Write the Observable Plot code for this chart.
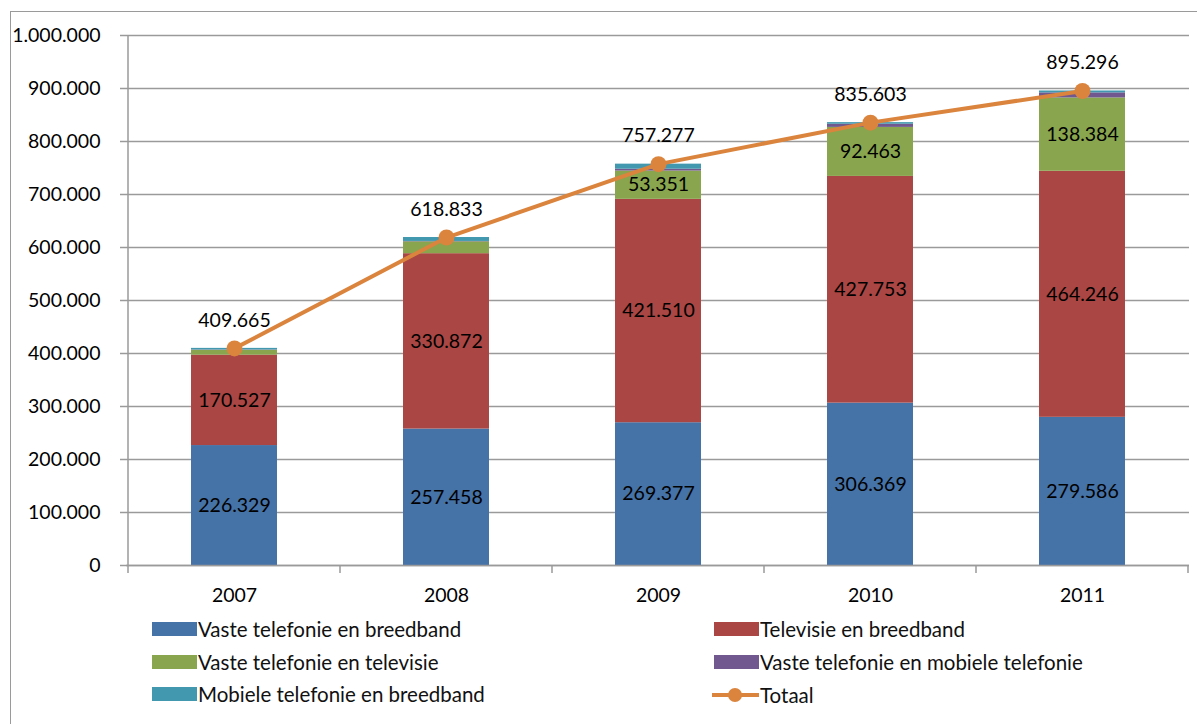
<!DOCTYPE html>
<html><head><meta charset="utf-8">
<script src="https://cdn.jsdelivr.net/npm/d3@7"></script>
<script src="https://cdn.jsdelivr.net/npm/@observablehq/plot@0.6"></script>
<style>
body{margin:0;background:#fff;font-family:Lato,sans-serif;}
#wrap{position:relative;width:1197px;height:724px;overflow:hidden;background:#fff;}
#frame{position:absolute;left:10px;top:11px;width:1300px;height:800px;border:1.5px solid #9a9a9a;}
#chart{position:absolute;left:0;top:0;}
.leg{position:absolute;font-size:20.5px;color:#111;display:flex;align-items:center;white-space:nowrap;height:14px;line-height:14px}
.sw{width:45px;height:14px;margin-right:1px;flex:none}
</style></head><body>
<div id="wrap"><div id="frame"></div><div id="chart"></div><div id="legend"></div></div>
<script>
const years = ["2007","2008","2009","2010","2011"];
const seriesNames = ["Vaste telefonie en breedband","Televisie en breedband","Vaste telefonie en televisie","Vaste telefonie en mobiele telefonie","Mobiele telefonie en breedband"];
const seriesColors = ["#4572A7","#AA4643","#89A54E","#71588F","#4198AF"];
const totalName = "Totaal";
const totalColor = "#DB843D";
const vasteBreedband = [226329,257458,269377,306369,279586];
const tvBreedband = [170527,330872,421510,427753,464246];
const vasteTv = [9200,22400,53351,92463,138384];
const vasteMobiel = [600,700,3500,6000,9500];
const mobielBreedband = [3009,7403,9539,3018,3580];
const totaal = [409665,618833,757277,835603,895296];
const yTicks = [0,100000,200000,300000,400000,500000,600000,700000,800000,900000,1000000];

const seriesValues = [vasteBreedband, tvBreedband, vasteTv, vasteMobiel, mobielBreedband];
const rows = [];
years.forEach((yr,i)=>{
  seriesNames.forEach((s,j)=>rows.push({year:yr, series:s, value:seriesValues[j][i], label: j<3 && seriesValues[j][i] > 40000}));
});
const totRows = years.map((yr,i)=>({year:yr, total:totaal[i]}));

const nl = d3.formatLocale({decimal:",",thousands:".",grouping:[3],currency:["€",""]});
const fmt = nl.format(",d");

const chart = Plot.plot({
  width:1197, height:600,
  marginLeft:126, marginRight:8, marginTop:35, marginBottom:35,
  style:{fontFamily:"Lato, sans-serif", fontSize:"19.5px", color:"#000", background:"transparent", overflow:"visible"},
  x:{domain:years, padding:0, label:null},
  y:{domain:[0,1000000], label:null},
  color:{domain:seriesNames, range:seriesColors},
  marks:[
    Plot.ruleY(yTicks, {stroke:"#9a9a9a", strokeWidth:1.5}),
    Plot.barY(rows, {x:"year", y:"value", fill:"series", insetLeft:63, insetRight:63}),
    Plot.text(rows, Plot.stackY({x:"year", y:"value", z:"series", text:d=>d.label?fmt(d.value):"", fill:"#000"})),
    Plot.axisY({ticks:yTicks, tickSize:6, tickPadding:20, tickFormat:fmt, stroke:"#9a9a9a", strokeWidth:1.5, label:null}),
    Plot.axisX({tickSize:0, tickPadding:23, label:null}),
    Plot.ruleY([0], {stroke:"#9a9a9a", strokeWidth:1.5}),
    Plot.line(totRows, {x:"year", y:"total", stroke:totalColor, strokeWidth:4}),
    Plot.dot(totRows, {x:"year", y:"total", r:8, fill:totalColor}),
    Plot.text(totRows, {x:"year", y:"total", text:d=>fmt(d.total), dy:-28, fill:"#000"})
  ]
});
// axis lines and category boundary ticks
const xs = chart.scale("x"), ysc = chart.scale("y");
const svg = d3.select(chart);
const g = svg.append("g").attr("stroke","#9a9a9a").attr("stroke-width",1.5);
const y0 = ysc.apply(0), y1 = ysc.apply(1000000);
const left = xs.apply(years[0]);
g.append("line").attr("x1",left).attr("x2",left).attr("y1",y1).attr("y2",y0+8);
years.forEach(yr=>{
  const x = xs.apply(yr) + xs.step;
  g.append("line").attr("x1",x).attr("x2",x).attr("y1",y0).attr("y2",y0+8);
});
document.getElementById("chart").appendChild(chart);

// legend
const legend = document.getElementById("legend");
const legItems = [
  {name:seriesNames[0], color:seriesColors[0], x:152, y:622},
  {name:seriesNames[1], color:seriesColors[1], x:714, y:622},
  {name:seriesNames[2], color:seriesColors[2], x:152, y:655},
  {name:seriesNames[3], color:seriesColors[3], x:714, y:655},
  {name:seriesNames[4], color:seriesColors[4], x:152, y:687},
  {name:totalName, color:totalColor, x:712, y:688, line:true}
];
legItems.forEach(it=>{
  const d = document.createElement("div");
  d.className="leg"; d.style.left=it.x+"px"; d.style.top=it.y+"px";
  if(it.line){
    d.innerHTML = `<svg width="47" height="14" style="margin-right:1px;flex:none"><line x1="0" x2="47" y1="7" y2="7" stroke="${it.color}" stroke-width="4"/><circle cx="23" cy="7" r="7" fill="${it.color}"/></svg><span>${it.name}</span>`;
  } else {
    d.innerHTML = `<div class="sw" style="background:${it.color}"></div><span>${it.name}</span>`;
  }
  legend.appendChild(d);
});
</script>
</body></html>
